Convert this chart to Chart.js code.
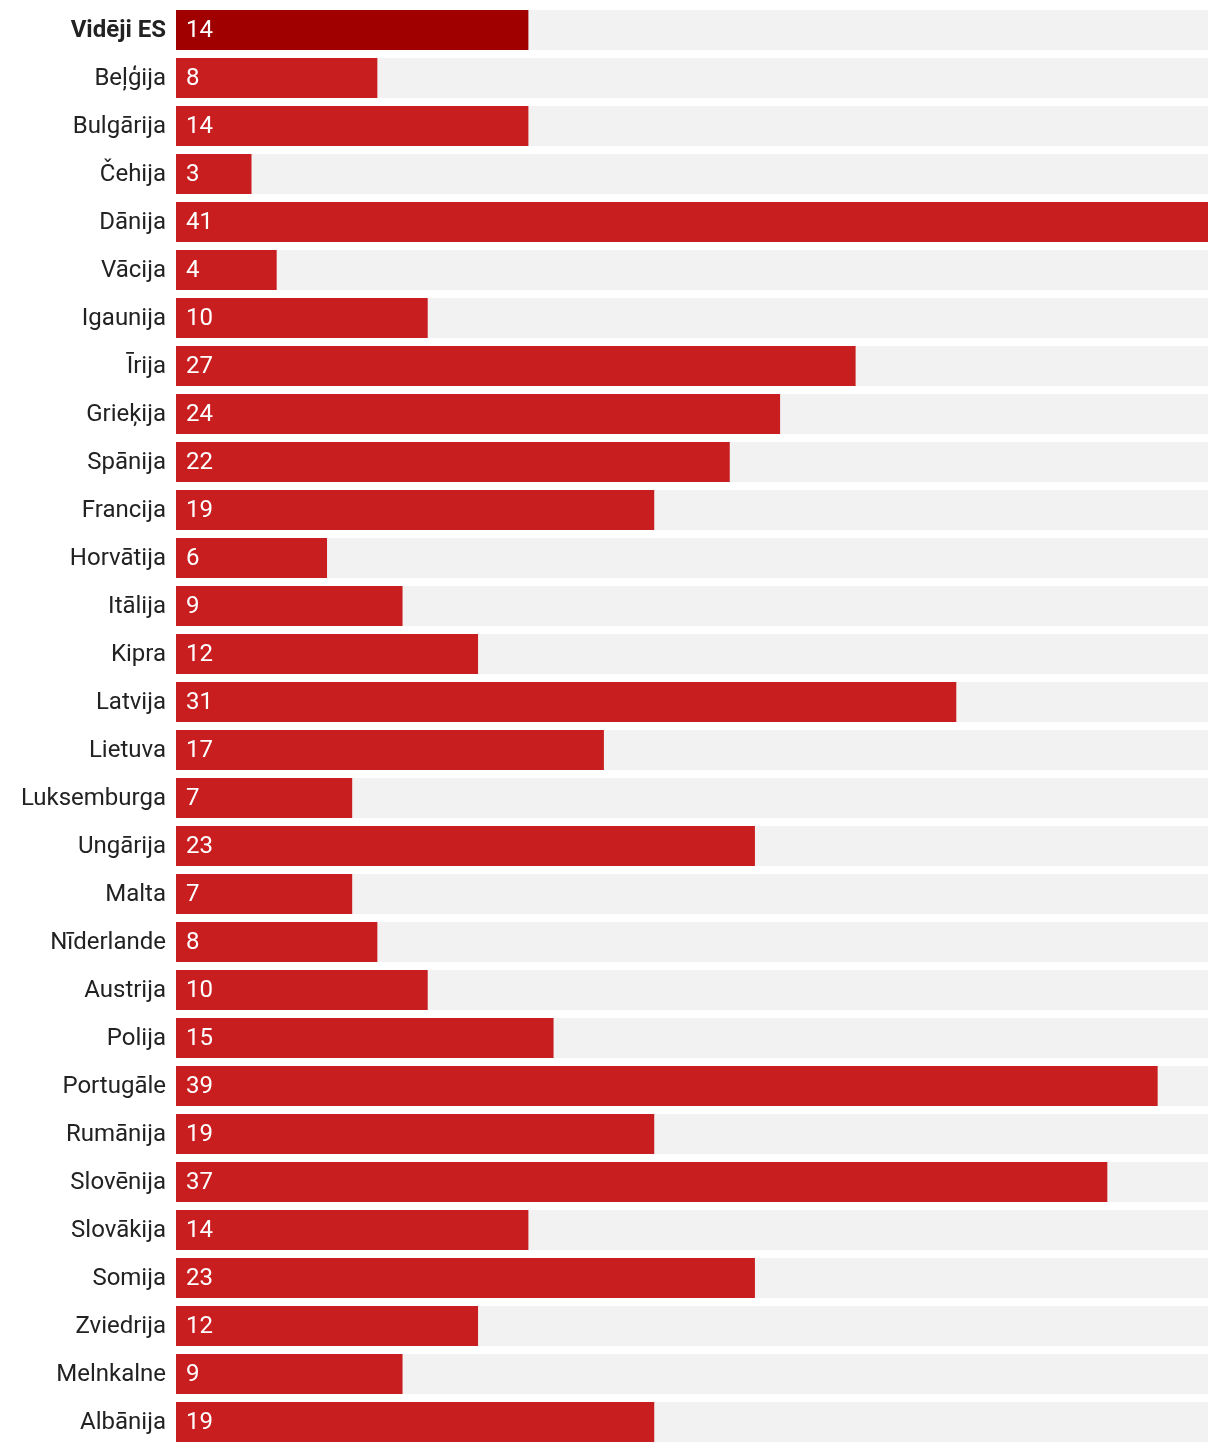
<!DOCTYPE html>
<html>
<head>
<meta charset="utf-8">
<script src="https://cdn.jsdelivr.net/npm/chart.js@4"></script>
<style>
  body { margin: 0; background: #fff; }
</style>
</head>
<body>
<canvas id="chart" width="1220" height="1452"></canvas>
<script>
const COUNTRIES = [
  "Vidēji ES", "Beļģija", "Bulgārija", "Čehija", "Dānija", "Vācija", "Igaunija",
  "Īrija", "Grieķija", "Spānija", "Francija", "Horvātija", "Itālija", "Kipra",
  "Latvija", "Lietuva", "Luksemburga", "Ungārija", "Malta", "Nīderlande",
  "Austrija", "Polija", "Portugāle", "Rumānija", "Slovēnija", "Slovākija",
  "Somija", "Zviedrija", "Melnkalne", "Albānija"
];
const VALUES = [
  14, 8, 14, 3, 41, 4, 10, 27, 24, 22, 19, 6, 9, 12, 31, 17, 7, 23, 7, 8,
  10, 15, 39, 19, 37, 14, 23, 12, 9, 19
];
const AXIS_MAX = 41;

const FONT = "Roboto, 'Noto Sans', sans-serif";

// grey track behind each bar
const trackPlugin = {
  id: "track",
  beforeDatasetsDraw(chart) {
    const { ctx, chartArea } = chart;
    const meta = chart.getDatasetMeta(0);
    ctx.save();
    ctx.fillStyle = "#f2f2f2";
    meta.data.forEach((bar) => {
      const h = bar.height;
      ctx.fillRect(chartArea.left, bar.y - h / 2, chartArea.right - chartArea.left, h);
    });
    ctx.restore();
  },
};

// value inside the bar, on its left
const valuePlugin = {
  id: "values",
  afterDatasetsDraw(chart) {
    const { ctx } = chart;
    const meta = chart.getDatasetMeta(0);
    ctx.save();
    ctx.fillStyle = "#ffffff";
    ctx.font = "24px " + FONT;
    ctx.textAlign = "left";
    ctx.textBaseline = "middle";
    meta.data.forEach((bar, i) => {
      ctx.fillText(String(VALUES[i]), bar.base + 10, bar.y + 1);
    });
    ctx.restore();
  },
};

new Chart(document.getElementById("chart"), {
  type: "bar",
  data: {
    labels: COUNTRIES,
    datasets: [
      {
        data: VALUES,
        backgroundColor: VALUES.map((v, i) => (i === 0 ? "#a00000" : "#c91e1f")),
        barPercentage: 40 / 48,
        categoryPercentage: 1,
      },
    ],
  },
  options: {
    indexAxis: "y",
    responsive: false,
    animation: false,
    layout: { padding: { top: 6, bottom: 6, right: 12, left: 0 } },
    plugins: {
      legend: { display: false },
      tooltip: { enabled: false },
    },
    scales: {
      x: {
        display: false,
        min: 0,
        max: AXIS_MAX,
      },
      y: {
        border: { display: false },
        grid: { display: false, drawTicks: false },
        afterFit(scale) {
          scale.width = 176;
          scale.paddingTop = 0;
          scale.paddingBottom = 0;
        },
        ticks: {
          padding: 10,
          labelOffset: 1,
          color: "#222222",
          font: (c) => ({
            family: FONT,
            size: 24,
            weight: c.index === 0 ? "bold" : "normal",
          }),
        },
      },
    },
  },
  plugins: [trackPlugin, valuePlugin],
});
</script>
</body>
</html>
